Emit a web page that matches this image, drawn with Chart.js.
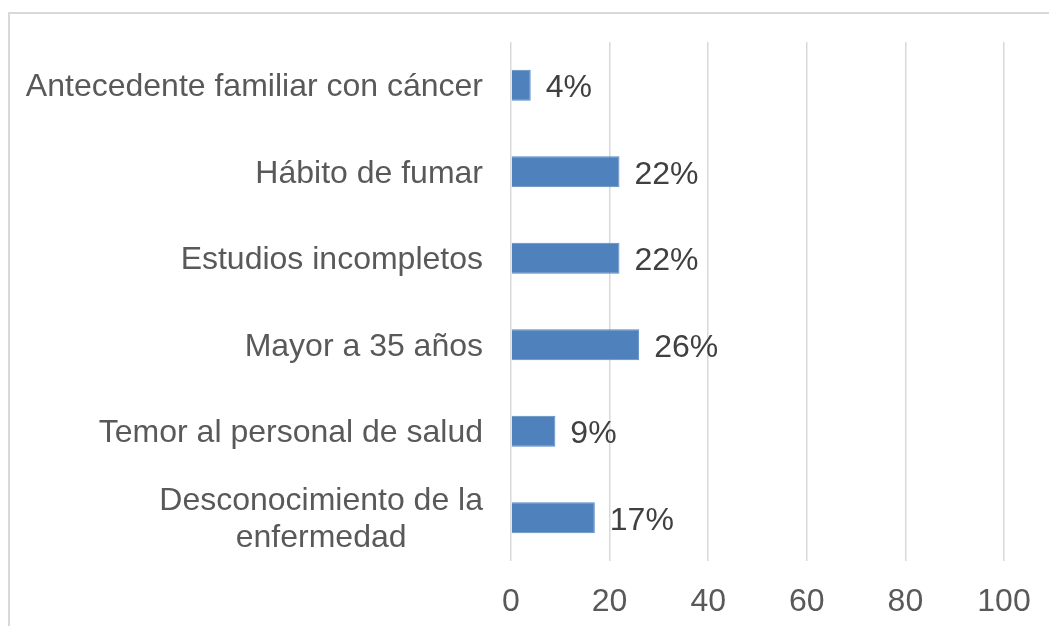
<!DOCTYPE html>
<html>
<head>
<meta charset="utf-8">
<script src="https://cdn.jsdelivr.net/npm/chart.js@4.4.1/dist/chart.umd.min.js"></script>
<style>
  html, body { margin: 0; padding: 0; background: #fff; }
  #wrap { position: relative; width: 1049px; height: 626px; overflow: hidden; }
  #frame { position: absolute; left: 8px; top: 12px; width: 1200px; height: 800px;
           border: 2px solid #d9d9d9; box-sizing: border-box; }
  #c { position: absolute; left: 0; top: 0; }
</style>
</head>
<body>
<div id="wrap">
  <div id="frame"></div>
  <canvas id="c" width="1049" height="626"></canvas>
</div>
<script>
// datos
const categories = [
  'Antecedente familiar con cáncer',
  'Hábito de fumar',
  'Estudios incompletos',
  'Mayor a 35 años',
  'Temor al personal de salud',
  ['Desconocimiento de la', 'enfermedad']
];
const values = [4, 22, 22, 26, 9, 17];
const xTicks = [0, 20, 40, 60, 80, 100];

const FONT = '"Liberation Sans", Arial, sans-serif';
const FS = 32;

// etiquetas de categoría: bloque alineado a la derecha, líneas centradas
const catLabelPlugin = {
  id: 'catLabels',
  afterDraw(chart) {
    const {ctx} = chart;
    const y = chart.scales.y;
    const right = y.right - 28;
    ctx.save();
    ctx.font = FS + 'px ' + FONT;
    ctx.fillStyle = '#595959';
    ctx.textAlign = 'center';
    ctx.textBaseline = 'middle';
    const lh = 37;
    categories.forEach((lab, i) => {
      const lines = Array.isArray(lab) ? lab : [lab];
      const widest = Math.max(...lines.map(l => ctx.measureText(l).width));
      const cx = right - widest / 2;
      const cy = y.getPixelForTick(i) + 2;
      const top = cy - (lines.length - 1) * lh / 2;
      lines.forEach((l, k) => ctx.fillText(l, cx, top + k * lh));
    });
    ctx.restore();
  }
};

// porcentaje al final de cada barra
const valueLabelPlugin = {
  id: 'valueLabels',
  afterDatasetsDraw(chart) {
    const {ctx} = chart;
    const meta = chart.getDatasetMeta(0);
    ctx.save();
    ctx.font = FS + 'px ' + FONT;
    ctx.fillStyle = '#404040';
    ctx.textAlign = 'left';
    ctx.textBaseline = 'middle';
    meta.data.forEach((bar, i) => {
      ctx.fillText(values[i] + '%', bar.x + 15, bar.y + 3);
    });
    ctx.restore();
  }
};

new Chart(document.getElementById('c'), {
  type: 'bar',
  data: {
    labels: categories,
    datasets: [{
      data: values,
      backgroundColor: '#4f81bd',
      borderColor: '#5a8ac4',
      borderWidth: 1,
      categoryPercentage: 1.0,
      barPercentage: 0.36
    }]
  },
  options: {
    indexAxis: 'y',
    responsive: false,
    animation: false,
    layout: { padding: { top: 42, right: 45, left: 0, bottom: 0 } },
    plugins: { legend: { display: false }, tooltip: { enabled: false } },
    scales: {
      x: {
        min: 0, max: 100,
        afterBuildTicks: s => { s.ticks = xTicks.map(v => ({ value: v })); },
        afterFit: s => { s.height = 65; s.paddingLeft = 0; s.paddingRight = 0; },
        border: { display: false },
        grid: { color: '#d9d9d9', lineWidth: 1.5, drawTicks: false },
        ticks: { color: '#595959', padding: 22, font: { family: FONT, size: FS } }
      },
      y: {
        afterFit: s => { s.width = 511; },
        border: { display: false },
        grid: { display: false },
        ticks: { display: false }
      }
    }
  },
  plugins: [catLabelPlugin, valueLabelPlugin]
});
</script>
</body>
</html>
